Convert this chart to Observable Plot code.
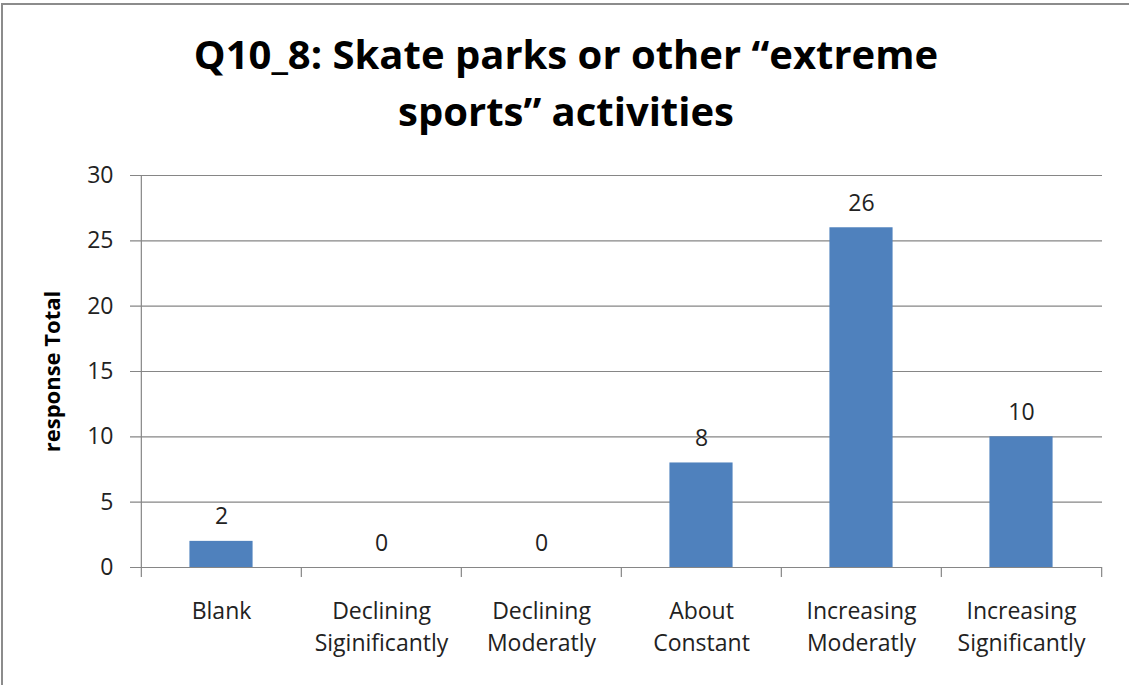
<!DOCTYPE html>
<html>
<head>
<meta charset="utf-8">
<script src="https://cdn.jsdelivr.net/npm/d3@7"></script>
<script src="https://cdn.jsdelivr.net/npm/@observablehq/plot@0.6"></script>
<style>
  html, body { margin: 0; padding: 0; background: #fff; }
  #wrap { position: relative; width: 1129px; height: 685px; overflow: hidden; background: #fff; }
  #title { position: absolute; left: 0; top: 25px; width: 1132px; text-align: center;
           font-family: "Open Sans", sans-serif; font-weight: bold; font-size: 40px; line-height: 57px; color: #000; letter-spacing: 0px; }
  #bl { position: absolute; left: 1px; top: 3px; width: 2px; height: 700px; background: #8c8c8c; }
  #bt { position: absolute; left: 1px; top: 3px; width: 1200px; height: 2px; background: #8c8c8c; }
  #chart { position: absolute; left: 0; top: 0; }
</style>
</head>
<body>
<div id="wrap">
  <div id="chart"></div>
  <div id="title">Q10_8: Skate parks or other “extreme<br>sports” activities</div>
  <div id="bl"></div>
  <div id="bt"></div>
</div>
<script>
const categories = ["Blank", "Declining\nSiginificantly", "Declining\nModeratly", "About\nConstant", "Increasing\nModeratly", "Increasing\nSignificantly"];
const values = [2, 0, 0, 8, 26, 10];
const yTicks = [0, 5, 10, 15, 20, 25, 30];
const yLabel = "response Total";

const data = categories.map((c, i) => ({category: c, value: values[i]}));

const W = 1129, H = 685, ML = 140, MR = 27, MT = 175, MB = 118;
const bw = (W - ML - MR) / categories.length;
const barInset = bw * 0.302;
const grid = "#868686";

const chart = Plot.plot({
  width: W, height: H,
  marginLeft: ML, marginRight: MR, marginTop: MT, marginBottom: MB,
  style: {fontFamily: "'Open Sans', sans-serif", fontSize: "23px", color: "#000", background: "transparent", overflow: "visible"},
  x: {domain: categories, padding: 0},
  y: {domain: [0, 30]},
  marks: [
    Plot.ruleY(yTicks, {stroke: grid, strokeWidth: 1.2, insetLeft: -10}),
    Plot.barY(data, {x: "category", y: "value", fill: "#4F81BD", insetLeft: barInset, insetRight: barInset}),
    Plot.ruleX([categories[0]], {y1: 30, y2: 0, dx: -bw / 2, stroke: grid, strokeWidth: 1.2, insetBottom: -10}),
    Plot.ruleX(categories.slice(1), {y1: 0, y2: 0, dx: -bw / 2, stroke: grid, strokeWidth: 1.2, insetBottom: -10}),
    Plot.ruleX(categories.slice(-1), {y1: 0, y2: 0, dx: bw / 2, stroke: grid, strokeWidth: 1.2, insetBottom: -10}),
    Plot.axisY(yTicks, {tickSize: 0, tickPadding: 27, label: null, fontSize: 23, fill: "#222"}),
    Plot.axisX({tickSize: 0, tickPadding: 29, label: null, lineHeight: 1.39, fontSize: 23, fill: "#222"}),
    Plot.text(data, {x: "category", y: "value", text: d => String(d.value), lineAnchor: "bottom", dy: -17, fontSize: 23, fill: "#222"}),
    Plot.text([yLabel], {frameAnchor: "left", textAnchor: "middle", rotate: -90, dx: -88, fontSize: 22, fontWeight: "bold", fill: "#000"})
  ]
});
document.getElementById("chart").appendChild(chart);
</script>
</body>
</html>
